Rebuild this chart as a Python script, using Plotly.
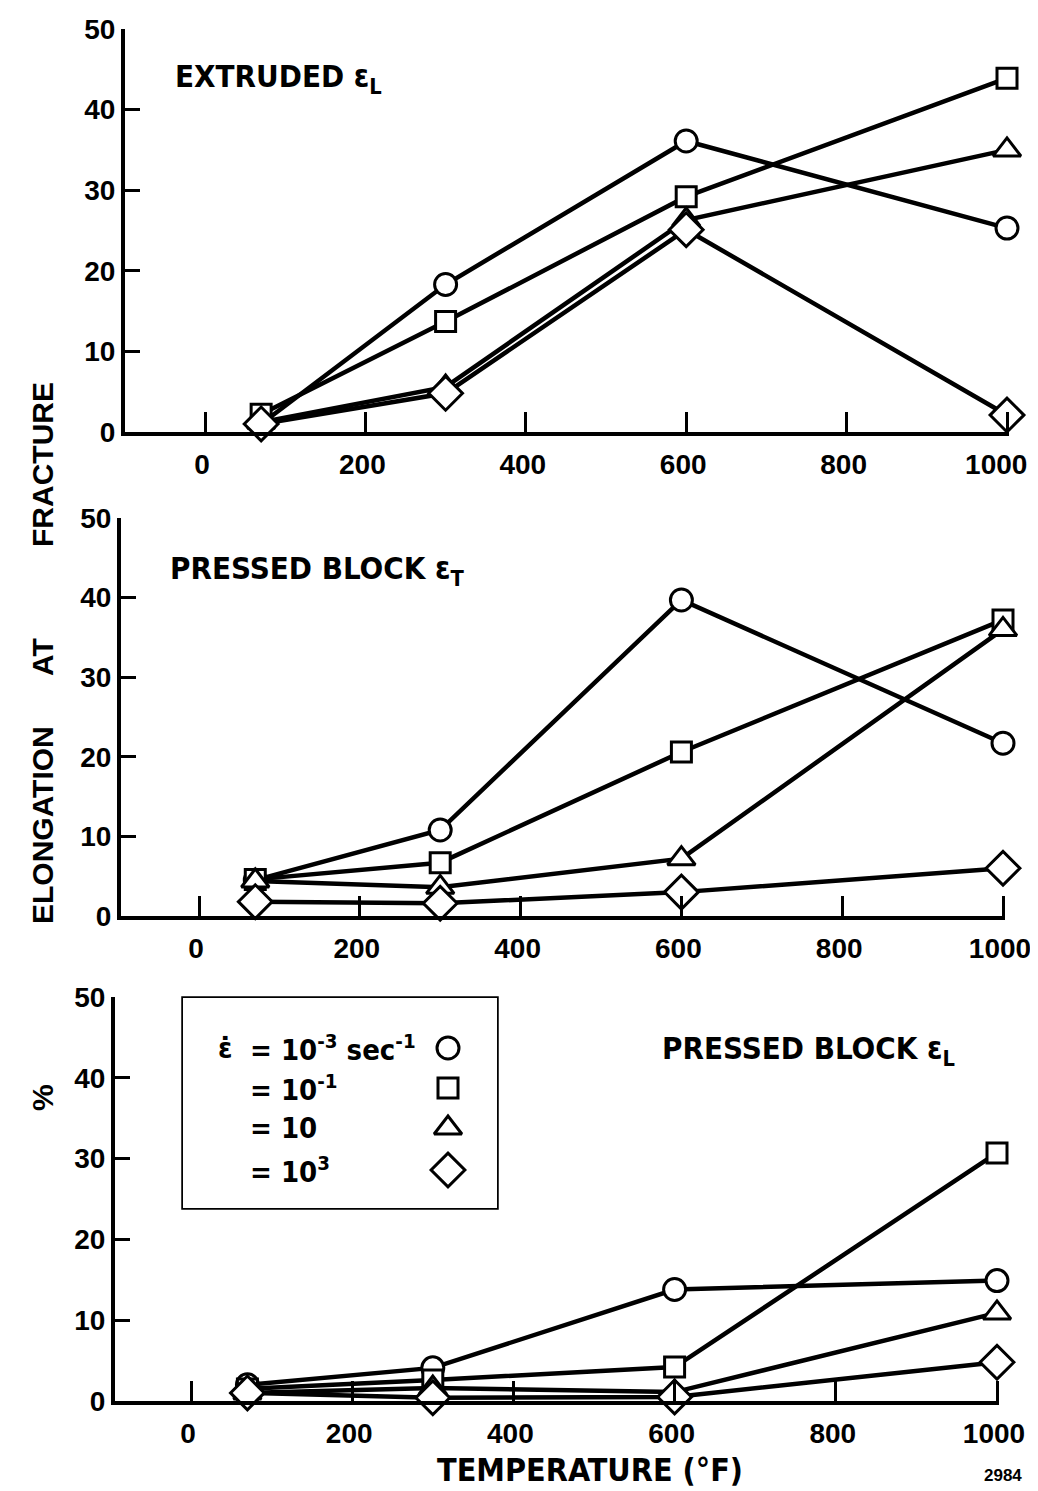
import plotly.graph_objects as go

W, H = 1038, 1491
OFF = 8                      # browser body margin offset
FW, FH = W - OFF, H - OFF


def px(x):
    return (x - OFF) / FW


def py(y):
    return 1 - (y - OFF) / FH


TEMP = [70, 300, 600, 1000]
X_TICKS = [0, 200, 400, 600, 800, 1000]
Y_TICKS = [0, 10, 20, 30, 40, 50]

# Panel 1: EXTRUDED eps_L
EXT_L_1e_3 = [1.0, 18.3, 36.1, 25.3]
EXT_L_1e_1 = [2.2, 13.7, 29.2, 43.9]
EXT_L_10 = [1.2, 5.6, 26.3, 35.0]
EXT_L_1e3 = [1.0, 4.8, 25.1, 2.1]

# Panel 2: PRESSED BLOCK eps_T
PBT_1e_3 = [4.5, 10.8, 39.7, 21.7]
PBT_1e_1 = [4.6, 6.7, 20.6, 37.2]
PBT_10 = [4.4, 3.6, 7.2, 36.0]
PBT_1e3 = [1.8, 1.6, 3.0, 6.0]

# Panel 3: PRESSED BLOCK eps_L
PBL_1e_3 = [2.0, 4.1, 13.8, 14.9]
PBL_1e_1 = [1.5, 2.6, 4.2, 30.7]
PBL_10 = [1.0, 1.6, 1.1, 10.9]
PBL_1e3 = [1.0, 0.4, 0.5, 4.8]

SYMBOLS = ["circle", "square", "triangle-up", "diamond"]
SIZES = [22, 20, 24, 26]
LEGEND_TEXT = ["= 10<sup>-3</sup> sec<sup>-1</sup>", "= 10<sup>-1</sup>", "= 10", "= 10<sup>3</sup>"]

PANELS = [
    ("EXTRUDED ε<sub>L</sub>", [EXT_L_1e_3, EXT_L_1e_1, EXT_L_10, EXT_L_1e3]),
    ("PRESSED BLOCK ε<sub>T</sub>", [PBT_1e_3, PBT_1e_1, PBT_10, PBT_1e3]),
    ("PRESSED BLOCK ε<sub>L</sub>", [PBL_1e_3, PBL_1e_1, PBL_10, PBL_1e3]),
]

# pixel geometry of each panel: (x px of 0, x px of 1000, left axis px, y px of 0, y px of 50)
GEOM = [
    (205, 1007, 125, 432, 29),
    (199, 1003, 121, 916, 518),
    (191, 997, 115, 1401, 997),
]
# x tick labels per panel (top panel's last label nudged left to stay inside the page)
X_TICKTEXT = [
    ["0", "200", "400", "600", "800", "1000\u00a0\u00a0"],
    [str(v) for v in X_TICKS],
    [str(v) for v in X_TICKS],
]

FONT = "DejaVu Sans Condensed, Liberation Sans Narrow, Liberation Sans, Arial"
BOLD_FONT = dict(family=FONT, size=30, color="black", weight="bold")
TICK_FONT = dict(family="Liberation Sans, Arial", size=28, color="black", weight="bold")

fig = go.Figure()
layout = dict(
    width=FW, height=FH, margin=dict(l=0, r=0, t=0, b=0, autoexpand=False),
    paper_bgcolor="white", plot_bgcolor="white", showlegend=False,
)

annotations = []
for i, ((title, series), (x0, x1, xl, y0, y50)) in enumerate(zip(PANELS, GEOM)):
    k = "" if i == 0 else str(i + 1)
    scale = (x1 - x0) / 1000.0
    xmin = (xl - x0) / scale
    xmax = 1003
    right_px = x0 + xmax * scale
    layout["xaxis" + k] = dict(
        domain=[px(xl), px(right_px)], range=[xmin, xmax], anchor="y" + k, automargin=False,
        showline=True, linewidth=4, linecolor="black", mirror=False,
        ticks="inside", ticklen=20, tickwidth=3, tickcolor="black",
        tickvals=X_TICKS, ticktext=X_TICKTEXT[i],
        tickfont=TICK_FONT, ticklabeloverflow="allow", ticklabelshift=-3, ticklabelstandoff=4,
        showgrid=False, zeroline=False, fixedrange=True,
    )
    layout["yaxis" + k] = dict(
        domain=[py(y0), py(y50)], range=[0, 50], anchor="x" + k, automargin=False,
        showline=True, linewidth=4, linecolor="black",
        ticks="inside", ticklen=15, tickwidth=3, tickcolor="black",
        tickvals=Y_TICKS, ticktext=[str(v) for v in Y_TICKS],
        tickfont=TICK_FONT, ticklabeloverflow="allow",
        showgrid=False, zeroline=False, fixedrange=True,
    )
    for s, vals in enumerate(series):
        fig.add_trace(go.Scatter(
            x=TEMP, y=vals, mode="lines+markers",
            xaxis="x" + k, yaxis="y" + k, cliponaxis=False,
            line=dict(color="black", width=4.5),
            marker=dict(symbol=SYMBOLS[s], size=SIZES[s], color="white",
                        line=dict(color="black", width=3)),
        ))

# panel titles
annotations.append(dict(text=PANELS[0][0], x=px(173), y=py(78), xref="paper", yref="paper",
                        xanchor="left", yanchor="middle", showarrow=False, font=dict(BOLD_FONT, size=31)))
annotations.append(dict(text=PANELS[1][0], x=px(168), y=py(570), xref="paper", yref="paper",
                        xanchor="left", yanchor="middle", showarrow=False, font=dict(BOLD_FONT, size=31)))
annotations.append(dict(text=PANELS[2][0], x=px(660), y=py(1050), xref="paper", yref="paper",
                        xanchor="left", yanchor="middle", showarrow=False, font=dict(BOLD_FONT, size=31)))

# y-axis title words (rotated)
for word, yc in [("FRACTURE", 465), ("AT", 657), ("ELONGATION", 825), ("%", 1098)]:
    annotations.append(dict(text=word, x=px(42), y=py(yc), xref="paper", yref="paper",
                            xanchor="center", yanchor="middle", textangle=-90, showarrow=False,
                            font=dict(family="Liberation Sans, Arial", size=30, color="black", weight="bold")))

# x-axis title and figure number
annotations.append(dict(text="TEMPERATURE (°F)", x=px(590), y=py(1470), xref="paper", yref="paper",
                        xanchor="center", yanchor="middle", showarrow=False, font=dict(BOLD_FONT, size=32)))
annotations.append(dict(text="2984", x=px(1003), y=py(1475), xref="paper", yref="paper",
                        xanchor="center", yanchor="middle", showarrow=False,
                        font=dict(family="Liberation Sans, Arial", size=17, color="black", weight="bold")))

# custom legend box
LEG_X0, LEG_Y0, LEG_X1, LEG_Y1 = 183, 998, 497, 1208
shapes = [dict(type="rect", xref="paper", yref="paper",
               x0=px(LEG_X0), x1=px(LEG_X1), y0=py(LEG_Y1), y1=py(LEG_Y0),
               line=dict(color="black", width=3.5), fillcolor="white", layer="below")]
ROW_Y = [1048, 1088, 1128, 1170]
annotations.append(dict(text="ε̇", x=px(216), y=py(ROW_Y[0]), xref="paper", yref="paper",
                        xanchor="left", yanchor="middle", showarrow=False, font=dict(BOLD_FONT, size=29)))
for r in range(4):
    annotations.append(dict(text=LEGEND_TEXT[r], x=px(248), y=py(ROW_Y[r]),
                            xref="paper", yref="paper", xanchor="left", yanchor="middle",
                            showarrow=False, font=dict(BOLD_FONT, size=29)))

# legend markers on an invisible overlay axis
layout["xaxis4"] = dict(domain=[px(LEG_X0), px(LEG_X1)], range=[LEG_X0, LEG_X1], visible=False,
                        anchor="y4", fixedrange=True, automargin=False)
layout["yaxis4"] = dict(domain=[py(LEG_Y1), py(LEG_Y0)], range=[LEG_Y1, LEG_Y0], visible=False,
                        anchor="x4", fixedrange=True, automargin=False)
for r in range(4):
    fig.add_trace(go.Scatter(
        x=[448], y=[ROW_Y[r]], mode="markers", xaxis="x4", yaxis="y4",
        marker=dict(symbol=SYMBOLS[r], size=SIZES[r], color="white",
                    line=dict(color="black", width=3)),
    ))

layout["annotations"] = annotations
layout["shapes"] = shapes
fig.update_layout(**layout)
fig.write_html("out.html")
